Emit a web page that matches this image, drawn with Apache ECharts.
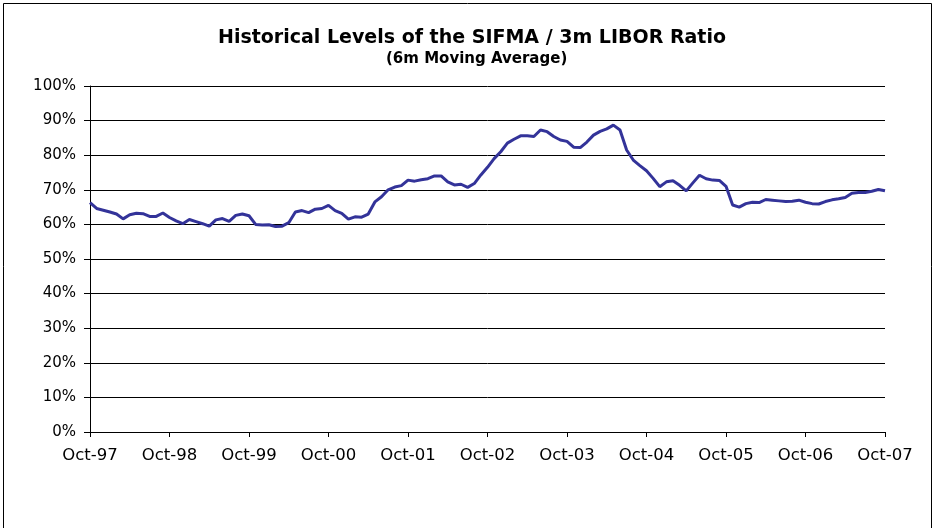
<!DOCTYPE html>
<html>
<head>
<meta charset="utf-8">
<script src="https://cdn.jsdelivr.net/npm/echarts@6/dist/echarts.min.js"></script>
<style>
html,body{margin:0;padding:0;background:#fff;}
#c{width:936px;height:528px;}
</style>
</head>
<body>
<div id="c"></div>
<script>
var monthNames = ['Oct','Nov','Dec','Jan','Feb','Mar','Apr','May','Jun','Jul','Aug','Sep'];
var yTickLabels = ['0%','10%','20%','30%','40%','50%','60%','70%','80%','90%','100%'];

// 6m moving average of SIFMA / 3m LIBOR ratio (%), monthly from Oct-97 to Oct-07
var ratio = [
  66.3, 64.6, 64.1, 63.6, 63.0, 61.6, 62.8, 63.2, 63.1, 62.3, 62.3, 63.3,
  62.0, 61.0, 60.2, 61.4, 60.8, 60.2, 59.5, 61.3, 61.7, 60.9, 62.6, 63.0,
  62.5, 60.0, 59.8, 59.9, 59.4, 59.5, 60.5, 63.6, 64.0, 63.4, 64.4, 64.6,
  65.5, 64.0, 63.2, 61.5, 62.2, 62.1, 63.0, 66.5, 68.0, 70.0, 70.8, 71.2,
  72.8, 72.5, 72.9, 73.2, 74.0, 74.0, 72.3, 71.4, 71.6, 70.7, 71.8, 74.3,
  76.5, 79.0, 81.0, 83.5, 84.6, 85.6, 85.6, 85.4, 87.3, 86.8, 85.4, 84.4,
  84.0, 82.3, 82.2, 83.8, 85.8, 86.9, 87.6, 88.7, 87.3, 81.5, 78.6, 77.0,
  75.5, 73.3, 70.9, 72.3, 72.6, 71.3, 69.7, 72.0, 74.2, 73.2, 72.8, 72.7,
  71.0, 65.6, 65.0, 66.0, 66.4, 66.3, 67.2, 67.0, 66.8, 66.6, 66.7, 67.0,
  66.4, 66.0, 65.9, 66.6, 67.1, 67.4, 67.8, 69.0, 69.2, 69.2, 69.6, 70.1,
  69.7
];

var categories = [];
for (var i = 0; i < ratio.length; i++) {
  var yy = (97 + Math.floor((i + 9) / 12)) % 100;
  var s = (yy < 10 ? '0' : '') + yy;
  categories.push(monthNames[i % 12] + '-' + s);
}

var chart = echarts.init(document.getElementById('c'), null, {renderer: 'canvas'});
var font = 'DejaVu Sans';
chart.setOption({
  animation: false,
  backgroundColor: '#ffffff',
  title: [
    {text: 'Historical Levels of the SIFMA / 3m LIBOR Ratio', left: 218, top: 29, padding: 0,
     textStyle: {fontFamily: font, fontWeight: 'bold', fontSize: 19, lineHeight: 19, color: '#000'}},
    {text: '(6m Moving Average)', left: 386, top: 52, padding: 0,
     textStyle: {fontFamily: font, fontWeight: 'bold', fontSize: 15, lineHeight: 15, color: '#000'}}
  ],
  graphic: [{
    type: 'rect', shape: {x: 3.5, y: 3.5, width: 928, height: 560},
    style: {fill: 'none', stroke: '#000', lineWidth: 1}, silent: true
  }],
  grid: {left: 90, right: 51, top: 86, bottom: 96, containLabel: false},
  xAxis: {
    type: 'category', data: categories, boundaryGap: false,
    axisLine: {lineStyle: {color: '#000', width: 1}},
    axisTick: {show: true, interval: 11, length: 5, inside: false, lineStyle: {color: '#000'}},
    axisLabel: {interval: 11, margin: 15, fontFamily: font, fontSize: 16.5, color: '#000'},
    splitLine: {show: false}
  },
  yAxis: {
    type: 'value', min: 0, max: 100, interval: 10,
    axisLine: {show: true, lineStyle: {color: '#000', width: 1}},
    axisTick: {show: true, length: 6, lineStyle: {color: '#000'}},
    axisLabel: {margin: 14, fontFamily: font, fontSize: 15, color: '#000',
      formatter: function (v) { return yTickLabels[Math.round(v / 10)]; }},
    splitLine: {show: true, lineStyle: {color: '#000', width: 1}}
  },
  series: [{
    type: 'line', data: ratio, showSymbol: false, symbol: 'none',
    lineStyle: {color: '#333399', width: 3}, z: 5
  }]
});
</script>
</body>
</html>
